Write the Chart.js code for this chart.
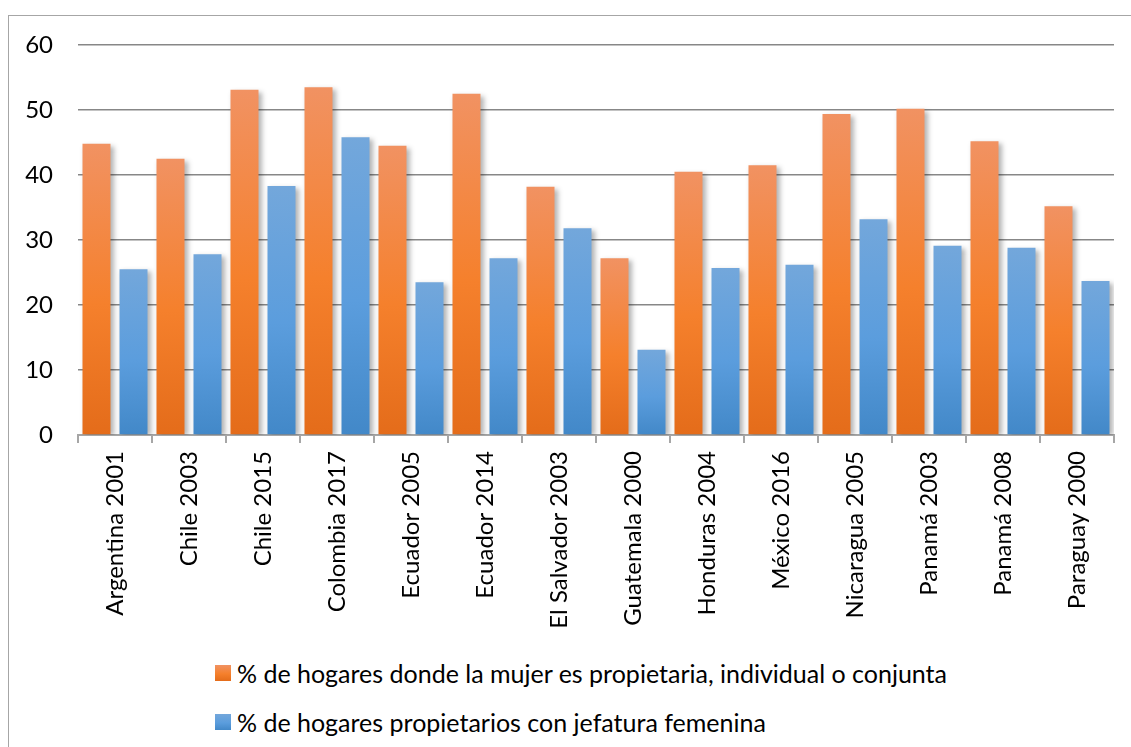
<!DOCTYPE html>
<html>
<head>
<meta charset="utf-8">
<script src="https://cdn.jsdelivr.net/npm/chart.js@4.4.1/dist/chart.umd.min.js"></script>
<style>
  body { margin: 0; background: #fff; width: 1131px; height: 747px; overflow: hidden; position: relative; font-family: Lato, "Noto Sans", sans-serif; }
  #frame { position: absolute; left: 8px; top: 15px; width: 1300px; height: 900px; border: 1px solid #a6a6a6; }
  #cfChart { position: absolute; left: 0; top: 0; }
  .leg { position: absolute; left: 215px; height: 30px; display: flex; align-items: center; font-size: 25px; color: #000; white-space: nowrap; }
  .leg span.box { width: 16px; height: 16px; margin-right: 6px; display: inline-block; }
</style>
</head>
<body>
<div id="frame"></div>
<canvas id="cfChart" width="1131" height="640"></canvas>
<div class="leg" style="top:658px"><span class="box" style="background:linear-gradient(#f19262,#f5802c 55%,#e46c1a)"></span>% de hogares donde la mujer es propietaria, individual o conjunta</div>
<div class="leg" style="top:707px"><span class="box" style="background:linear-gradient(#73a7db,#5b9ddd 55%,#4288c8)"></span>% de hogares propietarios con jefatura femenina</div>
<script>
const categories = [
  "Argentina 2001", "Chile 2003", "Chile 2015", "Colombia 2017", "Ecuador 2005",
  "Ecuador 2014", "El Salvador 2003", "Guatemala 2000", "Honduras 2004", "México 2016",
  "Nicaragua 2005", "Panamá 2003", "Panamá 2008", "Paraguay 2000"
];
const propietaria = [44.8, 42.5, 53.1, 53.5, 44.5, 52.5, 38.2, 27.2, 40.5, 41.5, 49.4, 50.2, 45.2, 35.2];
const jefatura = [25.5, 27.8, 38.3, 45.8, 23.5, 27.2, 31.8, 13.1, 25.7, 26.2, 33.2, 29.1, 28.8, 23.7];
const seriesNames = [
  "% de hogares donde la mujer es propietaria, individual o conjunta",
  "% de hogares propietarios con jefatura femenina"
];

const orangeStops = ["#f19262", "#f5802c", "#e46c1a"];
const blueStops = ["#73a7db", "#5b9ddd", "#4288c8"];

function barGradient(context, stops) {
  const chart = context.chart;
  if (!chart.chartArea || !chart.scales.y) return stops[1];
  const y = chart.scales.y;
  const top = y.getPixelForValue(context.raw);
  const bottom = y.getPixelForValue(0);
  if (!isFinite(top) || !isFinite(bottom) || top === bottom) return stops[1];
  const g = chart.ctx.createLinearGradient(0, top, 0, bottom);
  g.addColorStop(0, stops[0]);
  g.addColorStop(0.55, stops[1]);
  g.addColorStop(1, stops[2]);
  return g;
}

// soft drop shadow behind the bars, like the office chart
const barShadow = {
  id: "barShadow",
  beforeDatasetsDraw(chart) {
    const ctx = chart.ctx;
    ctx.save();
    ctx.shadowColor = "rgba(0,0,0,0.3)";
    ctx.shadowBlur = 5;
    ctx.shadowOffsetX = 3;
    ctx.shadowOffsetY = 2;
  },
  afterDatasetsDraw(chart) {
    chart.ctx.restore();
  }
};

const font = { family: "Lato, 'Noto Sans', sans-serif", size: 24 };

new Chart(document.getElementById("cfChart").getContext("2d"), {
  type: "bar",
  data: {
    labels: categories,
    datasets: [
      {
        label: seriesNames[0],
        data: propietaria,
        backgroundColor: (c) => barGradient(c, orangeStops),
        borderWidth: 0,
        categoryPercentage: 1,
        barPercentage: 0.757,
      },
      {
        label: seriesNames[1],
        data: jefatura,
        backgroundColor: (c) => barGradient(c, blueStops),
        borderWidth: 0,
        categoryPercentage: 1,
        barPercentage: 0.757,
      },
    ],
  },
  options: {
    responsive: false,
    animation: false,
    layout: { padding: { top: 45, right: 17, left: 0, bottom: 0 } },
    plugins: { legend: { display: false }, tooltip: { enabled: false } },
    scales: {
      x: {
        offset: true,
        grid: { drawOnChartArea: false, tickLength: 8, color: "#a6a6a6", lineWidth: 2 },
        border: { color: "#a6a6a6", width: 2 },
        ticks: { minRotation: 90, maxRotation: 90, autoSkip: false, color: "#000", font: font, padding: 8 },
        afterFit: (s) => { s.height = 205; },
      },
      y: {
        min: 0,
        max: 60,
        grid: { color: "#878787", lineWidth: 1.5, drawTicks: false },
        border: { display: false },
        ticks: { stepSize: 10, color: "#000", font: font, padding: 25 },
        afterFit: (s) => { s.width = 78; },
      },
    },
  },
  plugins: [barShadow],
});
</script>
</body>
</html>
